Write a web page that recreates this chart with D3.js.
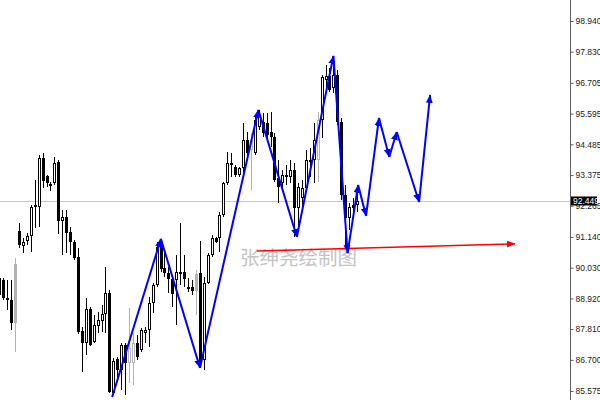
<!DOCTYPE html>
<html><head><meta charset="utf-8">
<script src="https://cdn.jsdelivr.net/npm/d3@7"></script>
<style>html,body{margin:0;padding:0;background:#fff;overflow:hidden}</style>
</head><body><svg id="c" width="600" height="400"></svg>
<script>
// ---- data ----
const opens = [
 89.66, 89.58, 88.93, 88.86, 90.16, 91.35, 90.81, 90.99, 91.17, 92.22,
 92.22, 93.99, 93.34, 92.98, 93.09, 93.85, 91.72, 91.86, 91.32, 90.96,
 90.41, 87.74, 87.31, 88.54, 87.34, 87.92, 88.10, 88.35, 89.11, 85.50,
 86.73, 86.33, 87.24, 86.59, 86.59, 87.31, 87.05, 87.67, 87.78, 88.75,
 89.40, 90.92, 90.02, 89.84, 89.62, 89.58, 89.84, 89.87, 89.29, 89.33,
 89.80, 89.84, 86.69, 89.48, 90.49, 91.10, 91.10, 91.93, 93.09, 93.81,
 93.67, 93.38, 93.63, 94.64, 94.28, 94.17, 95.11, 95.29, 95.26, 94.93,
 94.75, 93.27, 93.09, 93.31, 93.31, 93.56, 92.19, 92.55, 92.91, 93.85,
 93.92, 93.92, 95.36, 96.81, 96.95, 96.52, 96.99, 95.29, 92.66, 91.82,
 92.29, 92.29];
const highs = [
 89.76, 89.66, 89.58, 89.58, 90.38, 91.64, 91.10, 91.28, 92.29, 93.20,
 94.10, 94.17, 93.38, 93.12, 94.03, 93.92, 92.11, 92.11, 91.50, 91.03,
 90.74, 87.89, 88.93, 88.61, 88.32, 88.43, 88.68, 90.05, 89.22, 86.77,
 86.80, 87.31, 87.31, 88.57, 87.67, 87.60, 87.85, 87.89, 88.97, 89.48,
 90.96, 91.03, 90.56, 90.05, 89.69, 90.49, 91.64, 90.49, 89.66, 89.58,
 89.95, 90.99, 89.69, 90.56, 91.21, 91.14, 92.04, 93.12, 94.21, 94.17,
 93.74, 93.67, 95.26, 94.93, 94.89, 95.55, 95.73, 95.62, 95.62, 95.65,
 94.89, 93.92, 93.56, 93.74, 93.92, 93.81, 93.09, 93.20, 94.28, 94.35,
 95.26, 95.65, 96.99, 97.35, 97.24, 97.60, 97.17, 95.44, 93.02, 92.37,
 92.55, 92.76];
const lows = [
 88.97, 88.86, 88.50, 87.78, 86.98, 90.74, 90.56, 90.85, 90.59, 91.46,
 91.50, 92.91, 92.94, 92.80, 93.02, 91.25, 90.49, 90.56, 90.49, 90.31,
 87.63, 86.26, 86.87, 87.20, 87.31, 87.67, 87.70, 87.67, 85.50, 85.43,
 86.08, 85.61, 85.43, 85.86, 85.79, 86.69, 86.98, 87.31, 87.16, 88.39,
 89.33, 89.87, 89.69, 89.11, 88.61, 87.96, 89.40, 89.33, 89.15, 89.04,
 88.32, 86.41, 86.33, 89.44, 90.41, 90.92, 90.59, 91.86, 93.02, 93.31,
 93.31, 93.31, 93.31, 94.03, 92.84, 94.10, 95.00, 94.75, 94.71, 94.39,
 93.12, 92.37, 92.84, 93.02, 93.09, 91.14, 91.39, 92.11, 92.84, 93.31,
 93.09, 93.12, 94.71, 96.52, 96.38, 96.34, 95.18, 92.47, 90.67, 91.39,
 92.04, 92.04];
const closes = [
 89.04, 88.93, 88.86, 88.03, 88.03, 90.85, 90.96, 91.17, 92.22, 92.29,
 93.99, 93.16, 93.09, 93.05, 93.81, 91.72, 91.86, 91.28, 90.96, 90.38,
 87.70, 87.31, 88.54, 87.24, 87.96, 88.14, 88.35, 89.11, 85.54, 86.66,
 86.33, 87.24, 86.59, 87.13, 87.31, 86.80, 87.78, 87.78, 88.75, 89.40,
 90.78, 89.98, 89.84, 89.62, 89.08, 89.87, 89.87, 89.62, 89.33, 89.19,
 89.19, 86.69, 89.48, 90.49, 91.10, 90.96, 91.93, 93.09, 93.81, 93.74,
 93.38, 93.63, 94.64, 94.17, 94.64, 95.36, 95.55, 94.89, 94.82, 94.75,
 93.20, 92.94, 93.38, 93.38, 93.56, 92.19, 92.94, 92.91, 93.92, 93.92,
 94.64, 95.36, 96.92, 96.95, 96.45, 96.99, 95.29, 92.66, 91.82, 92.22,
 92.19, 92.449];
const shaded = [4, 33, 34, 50, 64, 81];

const zigzagIdx   = [28.7, 41.1, 51.05, 65.9, 75.7, 85.0, 88.6, 91.3, 93.3, 96.6, 99.2, 101.1, 106.8, 109.6];
const zigzagPrice = [85.36, 91.07, 86.41, 95.73, 91.14, 97.68, 90.56, 93.02, 91.90, 95.44, 94.03, 94.93, 92.40, 96.27];

const redIdx   = [65.5, 131.2];
const redPrice = [90.63, 90.89];

const tickValues = [98.940, 97.830, 96.705, 95.595, 94.485, 93.375, 92.265, 91.140, 90.030, 88.920, 87.810, 86.700, 85.575];
const lastPrice = 92.449;
const watermark = "张绅尧绘制图";

// ---- drawing ----
const svg = d3.select('#c');
const axisX = 570;
const x = d3.scaleLinear().domain([0, 145]).range([-0.63, -0.63 + 3.93 * 145]);
const y = d3.scaleLinear().domain([85.575, 98.94]).range([391, 21]);

const defs = svg.append('defs');
function marker(id, color) {
  defs.append('marker').attr('id', id)
    .attr('markerUnits', 'userSpaceOnUse')
    .attr('markerWidth', 10).attr('markerHeight', 8)
    .attr('refX', 8).attr('refY', 3.5)
    .attr('orient', 'auto')
    .append('path').attr('d', 'M0,0 L8,3.5 L0,7 Z').attr('fill', color);
}
marker('mb', '#0000ff');
marker('mr', '#ff0000');

// current price line
svg.append('line')
  .attr('x1', 0).attr('x2', axisX)
  .attr('y1', Math.round(y(lastPrice)) + 0.5).attr('y2', Math.round(y(lastPrice)) + 0.5)
  .attr('stroke', '#c8c8c8').attr('stroke-width', 1);

// candles
const candles = opens.map((o, i) => ({ i, o, h: highs[i], l: lows[i], c: closes[i], g: shaded.includes(i) }));
const GRAY = '#b4b4b4';
const cg = svg.append('g');
const cs = cg.selectAll('g').data(candles).join('g');
cs.append('line')
  .attr('x1', d => Math.round(x(d.i)) + 0.5).attr('x2', d => Math.round(x(d.i)) + 0.5)
  .attr('y1', d => Math.round(y(d.h))).attr('y2', d => Math.round(y(d.l)))
  .attr('stroke', d => d.g ? GRAY : '#000').attr('stroke-width', 1);
cs.append('rect')
  .attr('x', d => Math.round(x(d.i)) - 0.5)
  .attr('width', 2)
  .attr('y', d => Math.round(y(Math.max(d.o, d.c))) + 0.5)
  .attr('height', d => Math.max(1, Math.round(y(Math.min(d.o, d.c))) - Math.round(y(Math.max(d.o, d.c))) - 1))
  .attr('fill', d => d.c >= d.o ? '#fff' : (d.g ? GRAY : '#000'))
  .attr('stroke', d => d.g ? GRAY : '#000').attr('stroke-width', 1);

// watermark
svg.append('text')
  .attr('x', 240).attr('y', 265)
  .attr('font-family', '"Noto Sans CJK SC", sans-serif')
  .attr('font-size', 19.5)
  .attr('fill', '#c4c4c4')
  .text(watermark);

// red arrow
svg.append('line')
  .attr('x1', x(redIdx[0])).attr('y1', y(redPrice[0]))
  .attr('x2', x(redIdx[1])).attr('y2', y(redPrice[1]))
  .attr('stroke', '#ff0000').attr('stroke-width', 1.5)
  .attr('marker-end', 'url(#mr)');

// blue zigzag with arrow at every vertex
const zz = zigzagIdx.map((k, i) => ({ k, p: zigzagPrice[i] }));
const segs = d3.pairs(zz);
svg.append('g').selectAll('line').data(segs).join('line')
  .attr('x1', d => x(d[0].k)).attr('y1', d => y(d[0].p))
  .attr('x2', d => x(d[1].k)).attr('y2', d => y(d[1].p))
  .attr('stroke', '#0000ff').attr('stroke-width', 2)
  .attr('marker-end', 'url(#mb)');

// right price axis
svg.append('line')
  .attr('x1', axisX + 0.5).attr('x2', axisX + 0.5)
  .attr('y1', 0).attr('y2', 400)
  .attr('stroke', '#606060').attr('stroke-width', 1);
const ax = svg.append('g').attr('transform', `translate(${axisX + 0.5},0)`)
  .call(d3.axisRight(y).tickValues(tickValues).tickFormat(d3.format('.3f')).tickSize(3).tickPadding(2));
ax.select('.domain').remove();
ax.selectAll('.tick line').attr('stroke', '#606060');
ax.selectAll('.tick text')
  .attr('font-family', '"Liberation Sans", Arial, sans-serif')
  .attr('font-size', 8.5).attr('fill', '#222');

// last price tag
const ly = Math.round(y(lastPrice));
svg.append('rect').attr('x', axisX + 1).attr('y', ly - 4.5).attr('width', 26).attr('height', 9).attr('fill', '#000');
svg.append('text').attr('x', axisX + 3).attr('y', ly + 3)
  .attr('font-family', '"Liberation Sans", Arial, sans-serif')
  .attr('font-size', 8.5).attr('fill', '#fff')
  .text(d3.format('.3f')(lastPrice));
</script>
</body></html>
